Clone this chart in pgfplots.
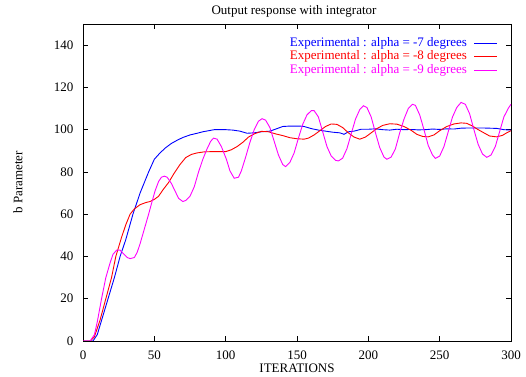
\documentclass[border=0pt]{standalone}
\usepackage{fontspec}
\setmainfont{Liberation Serif}
\usepackage{pgfplots}
\pgfplotsset{compat=1.18}
\definecolor{cblue}{RGB}{0,0,255}
\definecolor{cred}{RGB}{255,0,0}
\definecolor{cmag}{RGB}{255,0,255}
\begin{document}
\fontsize{13bp}{15bp}\selectfont
\begin{tikzpicture}
\useasboundingbox (0,0) rectangle (526bp,377bp);
\begin{axis}[
 at={(83bp,36bp)}, anchor=south west,
 scale only axis, width=428bp, height=317bp,
 xmin=0, xmax=300, ymin=0, ymax=150,
 xtick={0,50,...,300}, ytick={0,20,...,140},
 tick align=inside, major tick length=5bp,
 axis line style={line width=0.9bp},
 tick style={line width=0.7bp, black},
 /pgf/number format/assume math mode=true,
 ticklabel style={font=\fontsize{13bp}{15bp}\selectfont},
 xticklabel style={yshift=-5bp},
 yticklabel style={xshift=-5bp},
 every axis title shift=0pt,
 title={Output response with integrator},
 title style={at={(axis description cs:0.5,1)}, anchor=base, yshift=9.3bp, xshift=-3bp, font=\fontsize{13bp}{15bp}\selectfont},
 xlabel={ITERATIONS},
 xlabel style={at={(axis description cs:0.5,0)}, anchor=base, yshift=-31.3bp, font=\fontsize{13bp}{15bp}\selectfont},
 ylabel={b Parameter},
 ylabel style={at={(axis description cs:0,0.5)}, anchor=base, yshift=60.7bp, font=\fontsize{13bp}{15bp}\selectfont},
 legend plot pos=right,
 legend cell align=right,
 legend image code/.code={\draw[#1] (0bp,0bp) -- (23bp,0bp);},
 legend style={draw=none, fill=none, at={(axis cs:300,150)}, anchor=north east,
   xshift=-10bp, yshift=-11bp, font=\fontsize{13bp}{15bp}\selectfont,
   nodes={inner sep=0pt, text height=9bp, text depth=3bp},
   row sep=1.5bp, /tikz/column 1/.style={column sep=7bp}},
]
\addplot[cblue, line width=0.9bp] coordinates {
(0,0)(7,0)(10,3)(14,12)(18,21)(22,30)(26,40)(30,48)(35,60)(40,70)(46,80)(50,86)(54,89)(58,91.5)(62,93.5)(66,95)(70,96.3)(75,97.5)(80,98.3)(84,99)(88,99.5)(92,100)(100,100)(105,99.8)(110,99.3)(115,98.3)(120,98.5)(125,99)(131,99.3)(136,100.5)(140,101.5)(145,101.7)(152,101.7)(155,101.5)(160,100.5)(165,99.8)(170,99.3)(175,98.8)(180,98.5)(183,97.8)(186,99)(190,99.3)(195,100.2)(200,100.2)(205,100.4)(210,100)(215,99.8)(220,100.2)(225,100)(230,100.1)(235,99.9)(240,100)(245,100.3)(250,100.1)(255,100.4)(260,100.3)(265,100.7)(270,100.8)(280,100.8)(290,100.6)(295,100)(300,99.8)
};
\addlegendentry{\textcolor{cblue}{Experimental : alpha = -7 degrees}}
\addplot[cred, line width=0.9bp] coordinates {
(0,0)(5,0)(8,2)(12,10)(16,20)(20,30)(23,40)(27,49)(30,55)(33,60)(36,62.5)(40,64.5)(44,65.5)(47,66)(50,67)(53,68.5)(56,71.5)(60,75)(64,79.5)(68,83.5)(72,86.8)(76,88.3)(80,89)(85,89.5)(90,89.6)(95,89.6)(100,89.6)(104,90.5)(108,92)(112,94)(116,96.5)(120,98)(125,99.2)(130,99)(135,98)(140,97.2)(145,96.2)(150,95.7)(155,95.5)(158,96)(162,97.5)(166,99.5)(170,101.5)(174,102.7)(178,102.5)(182,101)(186,98.5)(190,96.5)(194,95.5)(198,96.5)(202,98.5)(206,100.5)(210,102)(215,102.8)(220,102.6)(225,101.5)(230,99.7)(234,97.8)(238,96.8)(242,96.6)(246,97.5)(250,99.5)(255,101.5)(260,102.7)(265,103.2)(269,103)(273,101.7)(277,100)(281,98.5)(285,97)(290,96.6)(294,97.3)(297,98.5)(300,99.5)
};
\addlegendentry{\textcolor{cred}{Experimental : alpha = -8 degrees}}
\addplot[cmag, line width=0.9bp] coordinates {
(0,0)(5,0)(8,3)(10,9)(13,20)(16,30)(19,37)(21,41)(23.6,43)(26,43)(28,41.5)(31,39.5)(33,39)(36,39.5)(38,42)(40,46)(43,53)(46,60)(48,65)(50.5,71)(53,75.5)(55,77.5)(57,78)(59,77.5)(62,74.5)(64.5,71)(67,67.5)(70,66)(72,66.5)(75,68.5)(78,73)(81,80)(84,86)(87,91)(89.5,94.5)(91.5,96)(94,95.5)(97,92)(100.5,86)(103,80.5)(106,77)(109,77.5)(111,80.5)(114,87)(117,94)(120,100)(123,104)(125.5,105.2)(128,104.5)(131,101)(134,94.5)(137,88)(140,83.5)(142,82.5)(145,84.5)(148,89)(151,96)(154,102.5)(157,107)(160,109)(162,109)(165,106)(168,99)(171,92)(174,87.5)(177,85.5)(179,85.2)(182,86.5)(185,91)(188,98)(191,105)(194,109.5)(196.5,111.3)(199,110.5)(202,106)(205,98.5)(208,91.5)(211,87)(213,86)(216,87)(219,91)(222,98.5)(225,105)(228,110)(231,112)(233,111.5)(236,107)(239,100)(242,92.5)(245,88)(247,86.4)(250,87.5)(253,92)(256,99)(259,106)(262,110.5)(265,112.9)(268,112)(271,107.5)(274,100)(277,93)(280,88.5)(283,86.9)(286,88)(289,92)(292,99)(295,106)(298,110)(300,112)
};
\addlegendentry{\textcolor{cmag}{Experimental : alpha = -9 degrees}}
\end{axis}
\end{tikzpicture}
\end{document}
